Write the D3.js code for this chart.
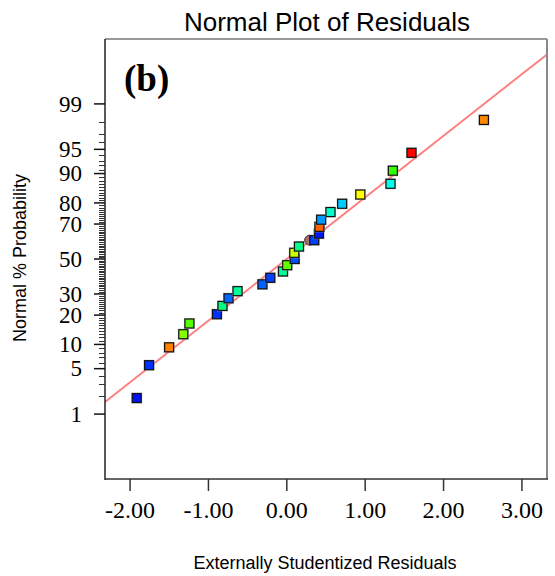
<!DOCTYPE html>
<html>
<head>
<meta charset="utf-8">
<script src="https://cdn.jsdelivr.net/npm/d3@7"></script>
<style>
body { margin: 0; background: #fff; }
</style>
</head>
<body>
<div id="chart"></div>
<script>
// residuals, sorted
var residuals = [-1.915, -1.758, -1.502, -1.321, -1.243, -0.892, -0.821, -0.744, -0.629,
	-0.311, -0.211, -0.049, 0.005, 0.100, 0.095, 0.155, 0.350, 0.410, 0.416, 0.438,
	0.557, 0.706, 0.938, 1.323, 1.353, 1.591, 2.515];
// normal % probability of each point
var probability = [1.85, 5.56, 9.26, 12.96, 16.67, 20.37, 24.07, 27.78, 31.48,
	35.19, 38.89, 42.59, 46.30, 50.00, 53.70, 57.41, 61.11, 64.81, 68.52, 72.22,
	75.93, 79.63, 83.33, 87.04, 90.74, 94.44, 98.15];
// marker colours
var colors = ["#0014f5", "#0030ff", "#ff8000", "#88ff00", "#55ff00", "#0033ff", "#00ff80", "#0066ff", "#00ff99",
	"#0060ff", "#0040ff", "#00ff99", "#66ff00", "#0050ff", "#ccff00", "#00ff88", "#0040ff", "#0018ff",
	"#ff6000", "#0099ff", "#00ffcc", "#00ccff", "#ffff00", "#00ffee", "#33ff00", "#ff0000", "#ff8800"];

// the extra round marker
var circleResidual = [0.291];
var circleProbability = [61.11];

// fitted reference line z = (x - mean) / sd
var lineMean = 0.0;
var lineSD = 1.082;

var xTicks = [-2, -1, 0, 1, 2, 3];
var yTicks = [1, 5, 10, 20, 30, 50, 70, 80, 90, 95, 99];

// inverse normal cdf (Acklam)
function probit(p) {
	var a = [-3.969683028665376e+01, 2.209460984245205e+02, -2.759285104469687e+02, 1.383577518672690e+02, -3.066479806614716e+01, 2.506628277459239e+00];
	var b = [-5.447609879822406e+01, 1.615858368580409e+02, -1.556989798598866e+02, 6.680131188771972e+01, -1.328068155288572e+01];
	var c = [-7.784894002430293e-03, -3.223964580411365e-01, -2.400758277161838e+00, -2.549732539343734e+00, 4.374664141464968e+00, 2.938163982698783e+00];
	var d = [7.784695709041462e-03, 3.224671290700398e-01, 2.445134137142996e+00, 3.754408661907416e+00];
	var plow = 0.02425, q, r;
	if (p < plow) {
		q = Math.sqrt(-2 * Math.log(p));
		return (((((c[0]*q+c[1])*q+c[2])*q+c[3])*q+c[4])*q+c[5]) / ((((d[0]*q+d[1])*q+d[2])*q+d[3])*q+1);
	}
	if (p > 1 - plow) {
		q = Math.sqrt(-2 * Math.log(1 - p));
		return -(((((c[0]*q+c[1])*q+c[2])*q+c[3])*q+c[4])*q+c[5]) / ((((d[0]*q+d[1])*q+d[2])*q+d[3])*q+1);
	}
	q = p - 0.5;
	r = q * q;
	return (((((a[0]*r+a[1])*r+a[2])*r+a[3])*r+a[4])*r+a[5])*q / (((((b[0]*r+b[1])*r+b[2])*r+b[3])*r+b[4])*r+1);
}

var width = 555, height = 576;
var plotLeft = 105, plotRight = 547, plotTop = 39, plotBottom = 479;

var x = d3.scaleLinear().domain([-2.32, 3.32]).range([plotLeft, plotRight]);
var z = d3.scaleLinear().domain([-3.3, 3.3]).range([plotBottom, plotTop]);
function y(pct) { return z(probit(pct / 100)); }

var svg = d3.select("#chart")
	.append("svg")
	.attr("width", width)
	.attr("height", height);

// title
svg.append("text")
	.attr("x", 327)
	.attr("y", 31)
	.attr("text-anchor", "middle")
	.style("font-family", "Liberation Sans, Arial, sans-serif")
	.style("font-size", "26px")
	.text("Normal Plot of Residuals");

svg.append("defs").append("clipPath")
	.attr("id", "plotclip")
	.append("rect")
	.attr("x", plotLeft)
	.attr("y", plotTop)
	.attr("width", plotRight - plotLeft)
	.attr("height", plotBottom - plotTop);

// reference line
svg.append("line")
	.attr("clip-path", "url(#plotclip)")
	.attr("x1", x(-2.32))
	.attr("y1", z((-2.32 - lineMean) / lineSD))
	.attr("x2", x(3.32))
	.attr("y2", z((3.32 - lineMean) / lineSD))
	.attr("stroke", "#ff8080")
	.attr("stroke-width", 2);

// round marker sits behind the squares
svg.selectAll("circle.extra")
	.data(circleResidual)
	.enter()
	.append("circle")
	.attr("cx", function(d) { return x(d); })
	.attr("cy", function(d, i) { return y(circleProbability[i]); })
	.attr("r", 5)
	.attr("fill", "#b06868")
	.attr("stroke", "#333")
	.attr("stroke-width", 1);

var pts = svg.append("g");
residuals.forEach(function(r, i) {
	var cx = x(r), cy = y(probability[i]);
	pts.append("rect")
		.attr("x", cx - 5.5)
		.attr("y", cy - 5.5)
		.attr("width", 11)
		.attr("height", 11)
		.attr("fill", "#aaa")
		.attr("opacity", 0.7);
	pts.append("rect")
		.attr("x", cx - 4.5)
		.attr("y", cy - 4.5)
		.attr("width", 9)
		.attr("height", 9)
		.attr("fill", colors[i])
		.attr("stroke", "#111")
		.attr("stroke-width", 1.2);
});

// frame
svg.append("line").attr("x1", plotLeft).attr("y1", plotTop).attr("x2", plotRight).attr("y2", plotTop)
	.attr("stroke", "#333").attr("stroke-width", 1);
svg.append("line").attr("x1", plotRight).attr("y1", plotTop).attr("x2", plotRight).attr("y2", plotBottom)
	.attr("stroke", "#888").attr("stroke-width", 2);
svg.append("line").attr("x1", plotLeft).attr("y1", plotTop).attr("x2", plotLeft).attr("y2", plotBottom + 1)
	.attr("stroke", "#222").attr("stroke-width", 1.5);
svg.append("line").attr("x1", plotLeft).attr("y1", plotBottom).attr("x2", plotRight + 1).attr("y2", plotBottom)
	.attr("stroke", "#333").attr("stroke-width", 1.5);

// minor y ticks at every whole percent
var minor = d3.range(1, 100).filter(function(p) { return yTicks.indexOf(p) < 0; });
svg.selectAll("line.minor")
	.data(minor)
	.enter()
	.append("line")
	.attr("x1", plotLeft - 6)
	.attr("x2", plotLeft)
	.attr("y1", function(d) { return Math.round(y(d)) + 0.5; })
	.attr("y2", function(d) { return Math.round(y(d)) + 0.5; })
	.attr("stroke", "#333")
	.attr("stroke-width", 1);

// major y ticks and labels
svg.selectAll("line.ymajor")
	.data(yTicks)
	.enter()
	.append("line")
	.attr("x1", plotLeft - 11)
	.attr("x2", plotLeft)
	.attr("y1", function(d) { return y(d); })
	.attr("y2", function(d) { return y(d); })
	.attr("stroke", "#111")
	.attr("stroke-width", 1.5);

svg.selectAll("text.ylab")
	.data(yTicks)
	.enter()
	.append("text")
	.attr("x", 82)
	.attr("y", function(d) { return y(d); })
	.attr("dy", "0.34em")
	.attr("text-anchor", "end")
	.style("font-family", "Liberation Serif, Times New Roman, serif")
	.style("font-size", "23px")
	.text(function(d) { return d; });

// x ticks and labels
svg.selectAll("line.xmajor")
	.data(xTicks)
	.enter()
	.append("line")
	.attr("x1", function(d) { return x(d); })
	.attr("x2", function(d) { return x(d); })
	.attr("y1", plotBottom)
	.attr("y2", plotBottom + 12)
	.attr("stroke", "#333")
	.attr("stroke-width", 1.5);

svg.selectAll("text.xlab")
	.data(xTicks)
	.enter()
	.append("text")
	.attr("x", function(d) { return x(d); })
	.attr("y", 518)
	.attr("text-anchor", "middle")
	.style("font-family", "Liberation Serif, Times New Roman, serif")
	.style("font-size", "24px")
	.text(function(d) { return d.toFixed(2); });

// axis titles
svg.append("text")
	.attr("x", 325)
	.attr("y", 569)
	.attr("text-anchor", "middle")
	.style("font-family", "Liberation Sans, Arial, sans-serif")
	.style("font-size", "18px")
	.text("Externally Studentized Residuals");

svg.append("text")
	.attr("transform", "translate(26,258) rotate(-90)")
	.attr("text-anchor", "middle")
	.style("font-family", "Liberation Sans, Arial, sans-serif")
	.style("font-size", "18px")
	.text("Normal % Probability");

// panel letter
svg.append("text")
	.attr("x", 124)
	.attr("y", 91)
	.style("font-family", "Liberation Serif, Times New Roman, serif")
	.style("font-weight", "bold")
	.style("font-size", "37px")
	.text("(b)");
</script>
</body>
</html>
